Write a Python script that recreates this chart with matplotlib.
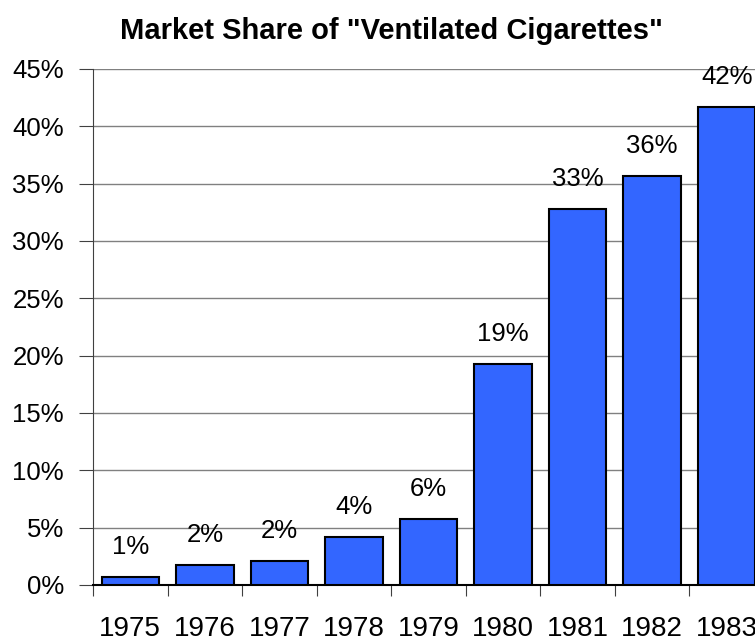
import matplotlib.pyplot as plt
import numpy as np

plt.rcParams['font.family'] = ['Liberation Sans', 'DejaVu Sans']

# data
years = ["1975", "1976", "1977", "1978", "1979", "1980", "1981", "1982", "1983"]
share = [0.72, 1.72, 2.09, 4.2, 5.75, 19.3, 32.8, 35.7, 41.7]
labels = ["1%", "2%", "2%", "4%", "6%", "19%", "33%", "36%", "42%"]

fig = plt.figure(figsize=(7.55, 6.37), dpi=100)
# axes goes a little past the right edge, as in the original
ax = fig.add_axes([93 / 755, 1 - 585 / 637, 671 / 755, 516 / 637])

x = np.arange(len(years))
bars = ax.bar(x, share, width=0.77, color="#3366FF", edgecolor="black", linewidth=1.5, zorder=3)

# value labels
for b, lab in zip(bars, labels):
    ax.annotate(lab, (b.get_x() + b.get_width() / 2, b.get_height()),
                xytext=(0, 13), textcoords="offset points",
                ha="center", va="bottom", fontsize=18.5)

ax.set_xlim(-0.5, len(years) - 0.5)
ax.set_ylim(0, 45)
ax.set_yticks(np.arange(0, 46, 5))
ax.set_yticklabels([f"{v}%" for v in range(0, 46, 5)], fontsize=18.5)
ax.yaxis.grid(True, color="#808080", linewidth=1, zorder=0)

# ticks between categories, labels centred under the bars
ax.set_xticks(np.arange(-0.5, len(years), 1))
ax.set_xticklabels([])
ax.set_xticks(x, minor=True)
ax.set_xticklabels(years, minor=True, fontsize=20)
ax.tick_params(axis="x", which="major", direction="out", length=8, color="#404040")
ax.tick_params(axis="x", which="minor", length=0, pad=22)
ax.tick_params(axis="y", direction="out", length=10, color="#404040", pad=11)

ax.spines["top"].set_visible(False)
ax.spines["right"].set_visible(False)
ax.spines["left"].set_color("#404040")
ax.spines["bottom"].set_color("black")
ax.spines["bottom"].set_linewidth(1.5)

fig.text(391 / 755, 1 - 31 / 637, 'Market Share of "Ventilated Cigarettes"',
         ha="center", va="center", fontsize=21, fontweight="bold")

plt.savefig("out.png", dpi=100)
